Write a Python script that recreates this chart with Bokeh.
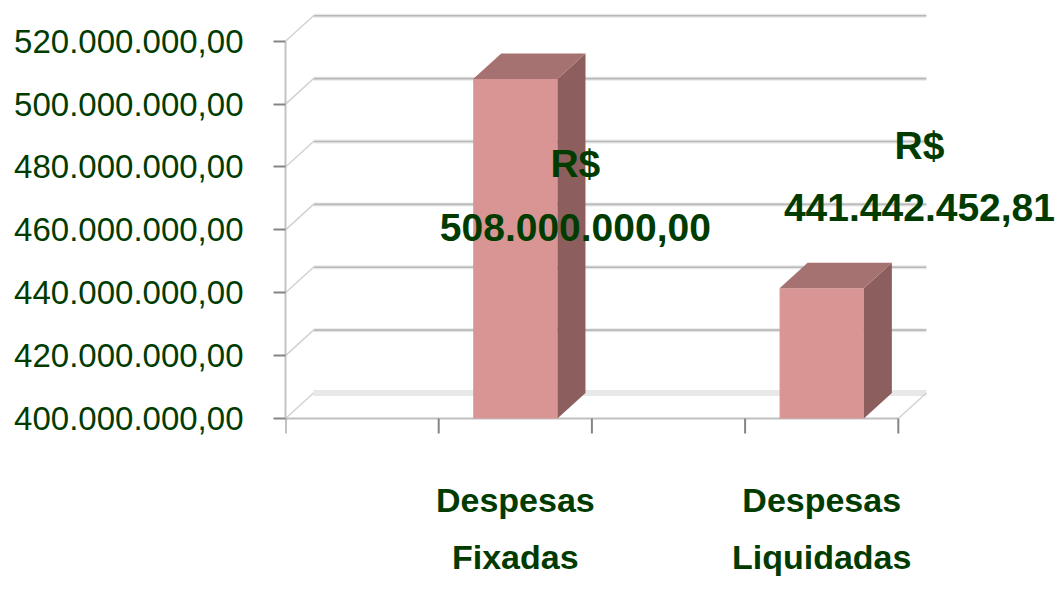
from bokeh.plotting import figure
from bokeh.models import Range1d, FixedTicker
from bokeh.core.properties import value
from bokeh.embed import file_html
from bokeh.resources import INLINE

# ---- data ----
categories = ["Despesas Fixadas", "Despesas Liquidadas"]
values = [508000000.00, 441442452.81]
y_ticks = [400000000, 420000000, 440000000, 460000000, 480000000, 500000000, 520000000]
x_ticks = [0, 0.5, 1, 1.5, 2]
# data-label anchors (x in category units, y in R$)
label_x = [0.946, 2.069]
label_rs_y = [476.2e6, 482.1e6]
label_val_y = [456.1e6, 462.4e6]
cat_line1_y = 369.2e6
cat_line2_y = 351.3e6


def brl(v):
    s = f"{v:,.2f}"
    return s.replace(",", "X").replace(".", ",").replace("X", ".")


GREEN = "#003b00"
FRONT = "#d99594"
SIDE = "#8c5f5e"
TOP = "#a57271"
DX = 0.0915          # depth offset, x (category units)
DY = 8.1e6           # depth offset, y (R$)
BW = 0.275           # bar width
BASE = y_ticks[0]
XMAX = x_ticks[-1]
FONT = value("Liberation Sans")
YOFF = -15           # baseline correction (px)

p = figure(width=1055, height=581,
           x_range=Range1d(0, 2.513), y_range=Range1d(348.16e6, 532.95e6),
           output_backend="svg", toolbar_location=None,
           x_axis_location=None,
           min_border_left=285, min_border_right=0,
           min_border_top=0, min_border_bottom=0)
p.outline_line_color = None
p.xgrid.visible = False
p.ygrid.visible = False
p.background_fill_color = "white"
p.border_fill_color = "white"

# y axis
ax = p.yaxis[0]
ax.ticker = FixedTicker(ticks=y_ticks)
ax.bounds = (y_ticks[0], y_ticks[-1])
ax.major_label_overrides = {t: brl(t) for t in y_ticks}
ax.major_label_text_font = "Liberation Sans"
ax.major_label_text_font_size = "33px"
ax.major_label_text_color = GREEN
ax.major_label_standoff = 30
ax.axis_line_color = "#c4c4c4"
ax.axis_line_width = 2
ax.major_tick_line_color = "#858585"
ax.major_tick_line_width = 2
ax.major_tick_out = 12
ax.major_tick_in = 0
ax.minor_tick_line_color = None

# back wall gridlines (halo + line) and side-wall diagonals
for t in y_ticks:
    lw_halo = 6 if t == BASE else 4
    p.line([DX, XMAX + DX], [t + DY, t + DY], line_color="#e8e8e8", line_width=lw_halo)
    if t != BASE:
        p.line([DX, XMAX + DX], [t + DY, t + DY], line_color="#b8b8b8", line_width=1.6)
    p.line([0, DX], [t, t + DY], line_color="#d2d2d2", line_width=1.5)

# floor: front and right edges
p.line([0, XMAX], [BASE, BASE], line_color="#c0c0c0", line_width=2)
p.line([XMAX, XMAX + DX], [BASE, BASE + DY], line_color="#d2d2d2", line_width=1.5)

# x tick marks
tick_len = 15 / 3.144 * 1e6
p.segment(x0=x_ticks, y0=[BASE] * len(x_ticks), x1=x_ticks,
          y1=[BASE - tick_len] * len(x_ticks), line_color="#858585", line_width=2)

# 3D bars
centers = [i + 0.75 for i in range(len(categories))]
lefts = [c - BW / 2 for c in centers]
rights = [c + BW / 2 for c in centers]
p.quad(left=lefts, right=rights, bottom=[BASE] * len(values), top=values,
       fill_color=FRONT, line_color=None)
side_xs = [[r, r + DX, r + DX, r] for r in rights]
side_ys = [[BASE, BASE + DY, v + DY, v] for v in values]
p.patches(side_xs, side_ys, fill_color=SIDE, line_color=None)
top_xs = [[l, l + DX, r + DX, r] for l, r in zip(lefts, rights)]
top_ys = [[v, v + DY, v + DY, v] for v in values]
p.patches(top_xs, top_ys, fill_color=TOP, line_color=None)

# data labels
p.text(x=label_x, y=label_rs_y, text=["R$"] * len(values), y_offset=YOFF,
       text_font=FONT, text_font_style="bold",
       text_font_size="39px", text_color=GREEN,
       text_align="center", text_baseline="alphabetic")
p.text(x=label_x, y=label_val_y, text=[brl(v) for v in values], y_offset=YOFF,
       text_font=FONT, text_font_style="bold",
       text_font_size="39px", text_color=GREEN,
       text_align="center", text_baseline="alphabetic")

# category labels (two lines each)
line1 = [c.split(" ", 1)[0] for c in categories]
line2 = [c.split(" ", 1)[1] for c in categories]
p.text(x=centers, y=[cat_line1_y] * len(categories), text=line1, y_offset=YOFF,
       text_font=FONT, text_font_style="bold",
       text_font_size="34px", text_color=GREEN,
       text_align="center", text_baseline="alphabetic")
p.text(x=centers, y=[cat_line2_y] * len(categories), text=line2, y_offset=YOFF,
       text_font=FONT, text_font_style="bold",
       text_font_size="34px", text_color=GREEN,
       text_align="center", text_baseline="alphabetic")

open("out.html", "w").write(file_html(p, INLINE))
